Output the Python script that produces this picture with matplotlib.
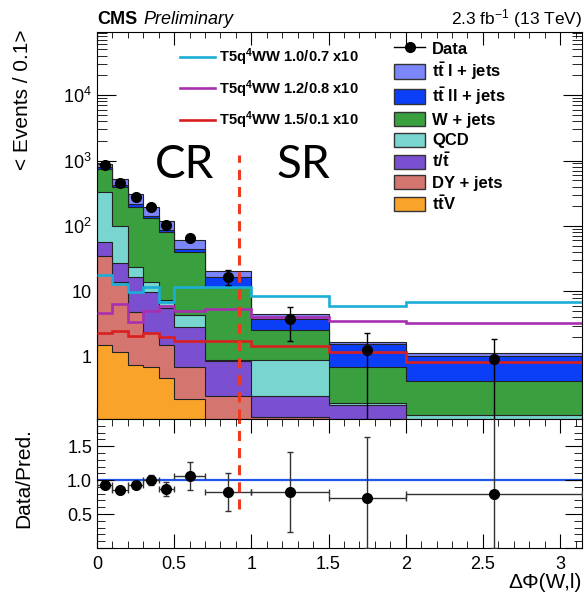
import numpy as np
import matplotlib
matplotlib.use("Agg")
import matplotlib.pyplot as plt
from matplotlib.patches import Patch, Rectangle
from matplotlib.lines import Line2D
from matplotlib.legend_handler import HandlerPatch
from matplotlib.ticker import MultipleLocator, LogLocator, NullFormatter, FuncFormatter

plt.rcParams['font.family'] = ['Liberation Sans', 'DejaVu Sans']
plt.rcParams['mathtext.fontset'] = 'custom'
plt.rcParams['mathtext.rm'] = 'Liberation Sans'
plt.rcParams['mathtext.bf'] = 'Liberation Sans:bold'
plt.rcParams['mathtext.it'] = 'Liberation Sans:italic'

# binning in delta phi(W,l)
edges = np.array([0, 0.1, 0.2, 0.3, 0.4, 0.5, 0.7, 1.0, 1.5, 2.0, np.pi])
x_data = [0.05, 0.15, 0.25, 0.35, 0.45, 0.6, 0.85, 1.25, 1.75, 2.57]

# data, events / 0.1
data = [850, 450, 280, 195, 104, 65, 16.6, 3.8, 1.25, 0.93]
data_up = [30, 22, 17, 14, 10, 6, 4.4, 1.9, 1.1, 0.95]
data_dn = [30, 22, 17, 14, 10, 6, 3.9, 2.05, 1.249, 0.929]

# backgrounds, bottom of the stack first
ttv = [1.52, 1.2, 0.75, 0.7, 0.47, 0.23, 0, 0, 0, 0]
dy = [33.5, 12.8, 4.15, 1.65, 1.03, 0.48, 0.25, 0.12, 0, 0]
single_top = [22, 13, 11.9, 7.55, 4.0, 2.14, 0.62, 0.13, 0.185, 0.01]
qcd = [276, 73, 7.1, 4.1, 2.0, 1.45, 0.03, 0.65, 0.015, 0.12]
wjets = [407, 290, 172, 117, 73.5, 36.2, 10.9, 1.68, 0.5, 0.3]
tt_dilep = [44, 30, 19, 9, 7, 3.5, 5.0, 1.19, 0.86, 0.61]
tt_semilep = [106, 100, 95, 54, 32, 17, 3.5, 0.8, 0.14, 0.12]

# signals x10
sig_a = [17.8, 13.0, 9.9, 11.8, 7.0, 11.8, 11.8, 8.5, 6.0, 6.9]
sig_b = [4.6, 6.4, 3.46, 5.1, 6.0, 5.1, 5.4, 4.1, 3.55, 3.27]
sig_c = [2.3, 2.5, 2.1, 2.35, 2.04, 1.77, 1.77, 1.44, 1.2, 0.83]

# data / prediction
ratio = [0.93, 0.85, 0.93, 1.0, 0.87, 1.06, 0.83, 0.82, 0.73, 0.8]
ratio_up = [0.04, 0.04, 0.05, 0.07, 0.1, 0.2, 0.28, 0.59, 0.91, 1.5]
ratio_dn = [0.04, 0.04, 0.05, 0.07, 0.1, 0.2, 0.29, 0.59, 0.73, 0.8]

bkg = [ttv, dy, single_top, qcd, wjets, tt_dilep, tt_semilep]
bkg_labels = [r"$\mathbf{t\bar{t}V}$", "DY + jets", r"$\mathbf{t/\bar{t}}$", "QCD",
              "W + jets", r"$\mathbf{t\bar{t}}$ ll + jets", r"$\mathbf{t\bar{t}}$ l + jets"]
bkg_colors = ['#f9a32b', '#d4766f', '#7a4fd0', '#78d5d0', '#3a9f3f', '#0b3ef7', '#7c86f8']
sig_labels = ["T5q$^\\mathbf{4}$WW 1.0/0.7 x10", "T5q$^\\mathbf{4}$WW 1.2/0.8 x10",
              "T5q$^\\mathbf{4}$WW 1.5/0.1 x10"]
sig_colors = ['#1aaed6', '#a830b0', '#d92020']
x_cut = 0.92

fig = plt.figure(figsize=(5.84, 5.98), dpi=100)
ax1 = fig.add_axes([0.166, 0.2993, 0.8305, 0.6477])
ax2 = fig.add_axes([0.166, 0.0836, 0.8305, 0.2157])

# stacked backgrounds, ROOT style: draw cumulative totals from the top down
cum = np.cumsum(np.array(bkg, dtype=float), axis=0)
for i in range(len(bkg) - 1, -1, -1):
    ax1.stairs(np.maximum(cum[i], 1e-3), edges, baseline=1e-3, fill=True,
               facecolor=bkg_colors[i], edgecolor='#222222', linewidth=0.8, zorder=2)

for s, c in zip([sig_a, sig_b, sig_c], sig_colors):
    ax1.stairs(s, edges, baseline=None, color=c, linewidth=1.9, zorder=3)

ax1.errorbar(x_data, data, yerr=[data_dn, data_up], fmt='o', color='black',
             markersize=7, elinewidth=1, capsize=2, zorder=5)

ax1.set_yscale('log')
ax1.set_xlim(0, np.pi)
ax1.set_ylim(0.112, 9.3e4)

def log_fmt(v, pos):
    if v == 1:
        return "1"
    if v == 10:
        return "10"
    return r"$10^{%d}$" % int(round(np.log10(v)))

ax1.yaxis.set_major_locator(LogLocator(base=10, numticks=10))
ax1.yaxis.set_major_formatter(FuncFormatter(log_fmt))
ax1.yaxis.set_minor_locator(LogLocator(base=10, subs=np.arange(2, 10), numticks=20))
ax1.yaxis.set_minor_formatter(NullFormatter())
ax1.xaxis.set_major_locator(MultipleLocator(0.5))
ax1.xaxis.set_minor_locator(MultipleLocator(0.1))
ax1.tick_params(which='both', direction='in', top=True, right=True, labelbottom=False,
                labelsize=13)
ax1.tick_params(axis='y', which='major', length=14)
ax1.tick_params(axis='y', which='minor', length=7)
ax1.tick_params(axis='x', which='major', length=9)
ax1.tick_params(axis='x', which='minor', length=4.5)

ax1.axvline(x_cut, ymin=0, ymax=0.682, color='#f03a20', linewidth=2.2,
            dashes=(3.3, 2.3), zorder=6)

ax1.text(0.181, 0.656, "CR", transform=ax1.transAxes, ha='center', va='center',
         fontsize=33, family=['Lato', 'DejaVu Sans'], fontweight='normal')
ax1.text(0.425, 0.656, "SR", transform=ax1.transAxes, ha='center', va='center',
         fontsize=33, family=['Lato', 'DejaVu Sans'], fontweight='normal')

# legends
sig_handles = [Line2D([], [], color=c, linewidth=1.9) for c in sig_colors]
leg1 = ax1.legend(sig_handles, sig_labels, loc='upper left', bbox_to_anchor=(0.171, 0.962),
                  frameon=False, borderpad=0, borderaxespad=0, handlelength=2.4,
                  handletextpad=0.25, labelspacing=0.68, prop={'weight': 'bold', 'size': 10.6})
ax1.add_artist(leg1)


def small_box(legend, orig_handle, xdescent, ydescent, width, height, fontsize):
    h = 0.85 * fontsize
    return Rectangle((-xdescent, -ydescent + (height - h) / 2), width, h)


bkg_handles = [Line2D([], [], color='black', marker='o', markersize=7, linewidth=1)]
bkg_handles += [Patch(facecolor=bkg_colors[i], edgecolor='#333333', linewidth=1)
                for i in range(len(bkg) - 1, -1, -1)]
bkg_names = ["Data"] + [bkg_labels[i] for i in range(len(bkg) - 1, -1, -1)]
ax1.legend(bkg_handles, bkg_names, loc='upper left', bbox_to_anchor=(0.612, 0.979),
           frameon=False, borderpad=0, borderaxespad=0, handlelength=1.9, handleheight=1.22,
           handletextpad=0.4, labelspacing=0.2, prop={'weight': 'bold', 'size': 12},
           handler_map={Patch: HandlerPatch(patch_func=small_box)})

# ratio panel
ax2.axhline(1.0, color='#2255ee', linewidth=1.6, zorder=1)
ax2.errorbar(x_data, ratio, yerr=[ratio_dn, ratio_up],
             xerr=[np.array(x_data) - edges[:-1], edges[1:] - np.array(x_data)],
             fmt='o', color='black', ecolor='#333333', markersize=7, elinewidth=1,
             capsize=2, zorder=4)
ax2.axvline(x_cut, ymin=0.3, ymax=1, color='#f03a20', linewidth=2.2,
            dashes=(3.3, 2.3), zorder=6)
ax2.set_xlim(0, np.pi)
ax2.set_ylim(0, 1.9)
ax2.yaxis.set_major_locator(MultipleLocator(0.5))
ax2.yaxis.set_minor_locator(MultipleLocator(0.1))
ax2.yaxis.set_major_formatter(FuncFormatter(lambda v, p: "" if v < 0.01 else "%.1f" % v))
ax2.xaxis.set_major_locator(MultipleLocator(0.5))
ax2.xaxis.set_minor_locator(MultipleLocator(0.1))
ax2.xaxis.set_major_formatter(FuncFormatter(lambda v, p: "%g" % v))
ax2.tick_params(which='both', direction='in', top=True, right=True, labelsize=13)
ax2.tick_params(axis='y', which='major', length=12)
ax2.tick_params(axis='y', which='minor', length=6)
ax2.tick_params(axis='x', which='major', length=10)
ax2.tick_params(axis='x', which='minor', length=5)
ax2.tick_params(axis='x', which='major', pad=6)

# titles
fig.text(0.0377, 1 - 30 / 598, "< Events / 0.1>", rotation=90, ha='center', va='top',
         fontsize=15)
fig.text(0.0411, 1 - 428 / 598, "Data/Pred.", rotation=90, ha='center', va='top',
         fontsize=15)
fig.text(582 / 584, 1 - 583 / 598, "ΔΦ(W,l)", ha='right', va='center', fontsize=15)
fig.text(97 / 584, 1 - 24 / 598, "CMS", ha='left', va='baseline', fontsize=13,
         fontweight='bold')
fig.text(143 / 584, 1 - 24 / 598, "Preliminary", ha='left', va='baseline', fontsize=13,
         style='italic')
fig.text(582 / 584, 1 - 24 / 598, r"2.3 fb$^{-1}$ (13 TeV)", ha='right', va='baseline',
         fontsize=12.5)

fig.savefig("out.png", dpi=100)
